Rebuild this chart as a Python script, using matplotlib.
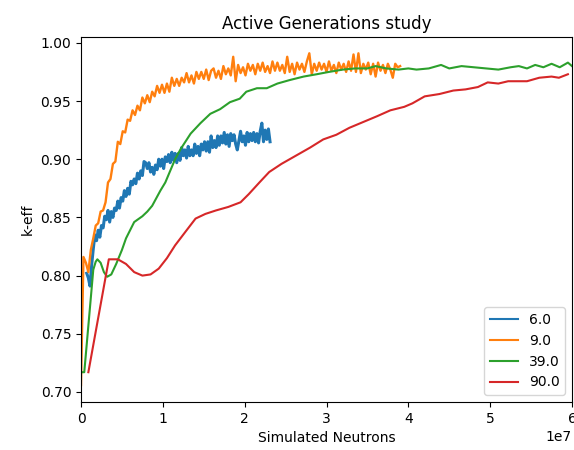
import numpy as np
import matplotlib
matplotlib.use("Agg")
import matplotlib.pyplot as plt

# legend labels (active generations)
labels = ["6.0", "9.0", "39.0", "90.0"]

# 6.0 -> noisy, from 0.07e7 to 2.31e7 on an even grid
blue_range = (0.07, 2.31)
blue_k = [0.802, 0.798, 0.791, 0.809, 0.823, 0.835, 0.830, 0.839, 0.833, 0.843,
          0.841, 0.851, 0.848, 0.856, 0.846, 0.855, 0.850, 0.858, 0.856, 0.864,
          0.858, 0.867, 0.864, 0.873, 0.868, 0.875, 0.870, 0.881, 0.878, 0.883,
          0.879, 0.888, 0.883, 0.890, 0.886, 0.898, 0.897, 0.892, 0.897, 0.889,
          0.893, 0.887, 0.895, 0.891, 0.900, 0.894, 0.900, 0.892, 0.902, 0.898,
          0.904, 0.897, 0.906, 0.899, 0.905, 0.897, 0.905, 0.899, 0.910, 0.903,
          0.908, 0.901, 0.911, 0.903, 0.908, 0.903, 0.913, 0.905, 0.911, 0.903,
          0.913, 0.908, 0.915, 0.907, 0.915, 0.906, 0.920, 0.910, 0.916, 0.910,
          0.920, 0.912, 0.920, 0.914, 0.923, 0.913, 0.921, 0.911, 0.922, 0.916,
          0.921, 0.913, 0.908, 0.916, 0.924, 0.915, 0.920, 0.912, 0.923, 0.915,
          0.922, 0.916, 0.923, 0.915, 0.922, 0.914, 0.924, 0.931, 0.915, 0.925,
          0.917, 0.926, 0.915]

# 9.0 -> noisy, from 0 to 3.9e7 on an even grid
orange_range = (0.0, 3.9)
orange_k = [0.706, 0.816, 0.811, 0.803, 0.822, 0.832, 0.843, 0.845, 0.855, 0.856,
            0.863, 0.880, 0.883, 0.896, 0.898, 0.915, 0.913, 0.924, 0.923, 0.934,
            0.933, 0.942, 0.938, 0.946, 0.942, 0.953, 0.948, 0.955, 0.949, 0.958,
            0.954, 0.963, 0.957, 0.964, 0.957, 0.965, 0.958, 0.970, 0.963, 0.969,
            0.963, 0.970, 0.966, 0.974, 0.966, 0.972, 0.965, 0.975, 0.969, 0.975,
            0.969, 0.977, 0.968, 0.976, 0.978, 0.970, 0.976, 0.969, 0.980, 0.973,
            0.978, 0.972, 0.988, 0.967, 0.981, 0.974, 0.979, 0.972, 0.982, 0.976,
            0.981, 0.973, 0.982, 0.976, 0.983, 0.975, 0.980, 0.974, 0.984, 0.976,
            0.983, 0.976, 0.981, 0.974, 0.988, 0.975, 0.982, 0.973, 0.983, 0.977,
            0.982, 0.975, 0.984, 0.991, 0.973, 0.982, 0.976, 0.983, 0.977, 0.982,
            0.975, 0.984, 0.976, 0.981, 0.974, 0.983, 0.977, 0.982, 0.975, 0.984,
            0.976, 0.990, 0.975, 0.991, 0.974, 0.982, 0.977, 0.983, 0.973, 0.982,
            0.971, 0.983, 0.976, 0.981, 0.974, 0.982, 0.977, 0.970, 0.982, 0.979,
            0.980]

# 39.0 -> smooth (x in units of 1e7)
green_x = [0.01, 0.04, 0.15, 0.18, 0.20, 0.24, 0.28, 0.32, 0.37, 0.43,
           0.50, 0.55, 0.65, 0.75, 0.81, 0.87, 0.97, 1.03, 1.09, 1.15,
           1.22, 1.34, 1.46, 1.58, 1.70, 1.82, 1.94, 2.02, 2.15, 2.27,
           2.40, 2.55, 2.72, 2.88, 3.03, 3.20, 3.35, 3.50, 3.60, 3.73,
           3.88, 4.00, 4.10, 4.25, 4.40, 4.50, 4.65, 4.80, 4.95, 5.10,
           5.25, 5.35, 5.45, 5.55, 5.65, 5.75, 5.85, 5.95, 6.00]
green_k = [0.717, 0.717, 0.805, 0.812, 0.814, 0.811, 0.803, 0.799, 0.801, 0.810,
           0.822, 0.832, 0.846, 0.851, 0.855, 0.860, 0.873, 0.880, 0.890, 0.900,
           0.909, 0.922, 0.931, 0.939, 0.943, 0.949, 0.952, 0.958, 0.961, 0.961,
           0.965, 0.968, 0.971, 0.973, 0.975, 0.977, 0.978, 0.978, 0.980, 0.978,
           0.977, 0.978, 0.977, 0.978, 0.981, 0.978, 0.980, 0.979, 0.978, 0.977,
           0.979, 0.980, 0.978, 0.981, 0.979, 0.982, 0.979, 0.983, 0.980]

# 90.0 -> smooth
red_x = [0.09, 0.34, 0.45, 0.55, 0.65, 0.75, 0.85, 0.95, 1.05, 1.15,
         1.28, 1.40, 1.52, 1.65, 1.80, 1.95, 2.05, 2.18, 2.30, 2.45,
         2.60, 2.80, 2.96, 3.12, 3.28, 3.45, 3.62, 3.78, 3.95, 4.05,
         4.20, 4.38, 4.55, 4.70, 4.85, 4.97, 5.10, 5.22, 5.45, 5.60,
         5.75, 5.84, 5.95]
red_k = [0.717, 0.814, 0.814, 0.810, 0.803, 0.800, 0.801, 0.806, 0.815, 0.826,
         0.838, 0.849, 0.853, 0.856, 0.859, 0.863, 0.870, 0.880, 0.889, 0.896,
         0.902, 0.910, 0.917, 0.921, 0.927, 0.932, 0.937, 0.942, 0.945, 0.948,
         0.954, 0.956, 0.959, 0.960, 0.962, 0.966, 0.965, 0.967, 0.967, 0.970,
         0.971, 0.970, 0.973]

blue_x = np.linspace(blue_range[0], blue_range[1], len(blue_k)) * 1e7
orange_x = np.linspace(orange_range[0], orange_range[1], len(orange_k)) * 1e7

fig = plt.figure(figsize=(5.74, 4.5), dpi=100)
ax = fig.add_axes([81 / 574, 48 / 450, 491 / 574, 365 / 450])

# noisy runs look like a thick band in the original, so a bit wider here
ax.plot(blue_x, blue_k, color="tab:blue", lw=2.2, label=labels[0])
ax.plot(orange_x, orange_k, color="tab:orange", lw=1.7, label=labels[1])
ax.plot(np.array(green_x) * 1e7, green_k, color="tab:green", label=labels[2])
ax.plot(np.array(red_x) * 1e7, red_k, color="tab:red", label=labels[3])

ax.set_xlim(0, 6e7)
ax.set_ylim(0.6914, 1.005)
ax.set_title("Active Generations study")
ax.set_xlabel("Simulated Neutrons")
ax.set_ylabel("k-eff")
leg = ax.legend(loc="lower right")
for line in leg.get_lines():
    line.set_linewidth(1.5)

fig.savefig("out.png", dpi=100)
